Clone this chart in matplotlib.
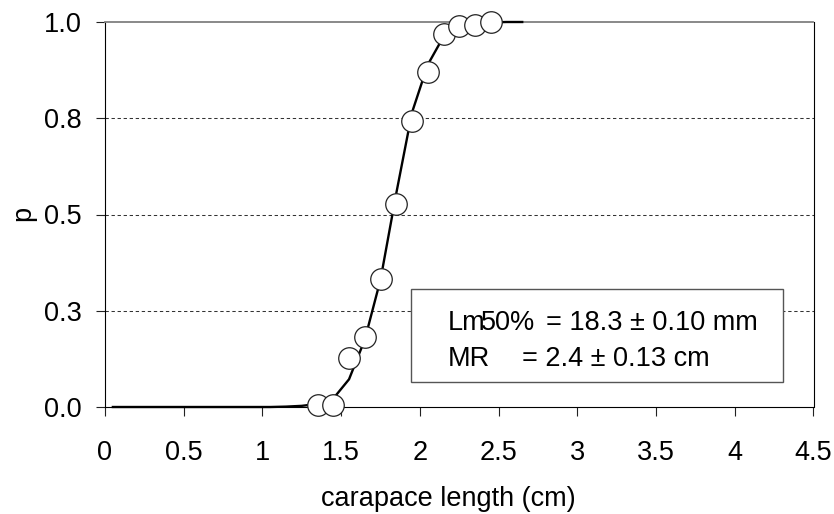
import matplotlib.pyplot as plt
from matplotlib.patches import Rectangle

plt.rcParams["font.family"] = ["Liberation Sans", "DejaVu Sans"]

# observed proportions of mature individuals
length_cm = [1.35, 1.45, 1.55, 1.65, 1.75, 1.85, 1.95, 2.05, 2.15, 2.25, 2.35, 2.45]
p_observed = [0.005, 0.005, 0.128, 0.181, 0.333, 0.527, 0.743, 0.870, 0.968, 0.989, 0.993, 1.0]

# fitted maturity curve
curve_cm = [0.05, 0.15, 0.25, 0.35, 0.45, 0.55, 0.65, 0.75, 0.85, 0.95, 1.05,
            1.15, 1.25, 1.35, 1.45, 1.55, 1.65, 1.75, 1.85, 1.95, 2.05, 2.15,
            2.25, 2.35, 2.45, 2.55, 2.65]
curve_p = [0.0, 0.0, 0.0, 0.0, 0.0, 0.0, 0.0, 0.0, 0.0, 0.0, 0.0,
           0.001, 0.003, 0.008, 0.022, 0.072, 0.175, 0.331, 0.555, 0.765, 0.889, 0.962,
           0.985, 0.995, 0.999, 1.0, 1.0]

x_ticks = [0, 0.5, 1, 1.5, 2, 2.5, 3, 3.5, 4, 4.5]
x_tick_labels = ["0", "0.5", "1", "1.5", "2", "2.5", "3", "3.5", "4", "4.5"]
y_ticks = [0.0, 0.25, 0.5, 0.75, 1.0]
y_tick_labels = ["0.0", "0.3", "0.5", "0.8", "1.0"]
grid_levels = [0.25, 0.5, 0.75]

W, H = 834, 514
FS = 19.5

fig = plt.figure(figsize=(W / 100, H / 100), dpi=100)
ax = fig.add_axes([105 / W, 1 - 407 / H, (813.5 - 105) / W, (407 - 22) / H])

for level in grid_levels:
    ax.axhline(level, color="#333333", lw=0.75, linestyle=(0, (3.2, 2.6)), zorder=1)

ax.plot(curve_cm, curve_p, color="black", lw=1.7, zorder=2.6, clip_on=False)
ax.plot(length_cm, p_observed, linestyle="none", marker="o", markersize=15.5,
        markerfacecolor="white", markeredgecolor="#222222", markeredgewidth=0.9,
        zorder=3, clip_on=False)

ax.set_xlim(0, 4.5)
ax.set_ylim(0, 1)
ax.set_xticks(x_ticks)
ax.set_xticklabels(x_tick_labels)
ax.set_yticks(y_ticks)
ax.set_yticklabels(y_tick_labels)
ax.tick_params(axis="both", direction="out", length=6.5, width=0.8, labelsize=FS,
               color="#222222")
ax.tick_params(axis="x", pad=17)
ax.tick_params(axis="y", pad=10)

for side in ["left", "bottom", "right"]:
    ax.spines[side].set_color("black")
    ax.spines[side].set_linewidth(0.8)
ax.spines["top"].set_color("#808080")
ax.spines["top"].set_linewidth(1.3)

ax.set_xlabel("carapace length (cm)", fontsize=FS)
ax.xaxis.set_label_coords((448 - 105) / (813.5 - 105), -(486 - 407) / (407 - 22))
ax.xaxis.label.set_va("top")
ax.set_ylabel("p", fontsize=FS)
ax.yaxis.set_label_coords(-(105 - 36) / (813.5 - 105), (407 - 213) / (407 - 22))

# text box with the fitted parameters
box = Rectangle((411 / W, 1 - 382 / H), (782.5 - 411) / W, (382 - 289) / H,
                transform=fig.transFigure, facecolor="white", edgecolor="#555555",
                lw=1.0, zorder=5)
fig.add_artist(box)
fig.text(448 / W, 1 - 329.5 / H, "Lm", fontsize=FS, va="baseline", zorder=6)
fig.text(481 / W, 1 - 329.5 / H, "50%", fontsize=FS, va="baseline", zorder=6)
fig.text(546 / W, 1 - 329.5 / H, "= 18.3 ± 0.10 mm", fontsize=FS, va="baseline", zorder=6)
fig.text(448 / W, 1 - 366.5 / H, "MR", fontsize=FS, va="baseline", zorder=6)
fig.text(521.5 / W, 1 - 366.5 / H, "= 2.4 ± 0.13 cm", fontsize=FS, va="baseline", zorder=6)

fig.savefig("out.png", dpi=100)
